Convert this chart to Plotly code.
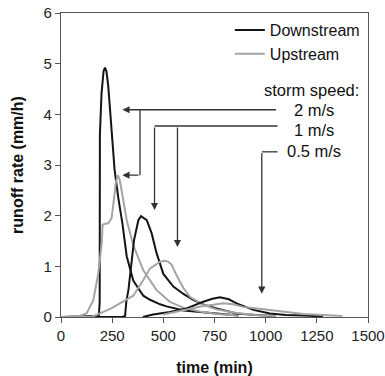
import plotly.graph_objects as go

# ---- data ----
t_down_2 = [0, 185, 189, 190, 198, 208, 215, 222, 231, 247, 262, 280, 300, 321, 353, 402, 435, 484, 516, 600, 679, 760, 840, 867]
q_down_2 = [0, 0.02, 0.3, 3.59, 4.41, 4.85, 4.92, 4.85, 4.55, 3.62, 2.9, 2.35, 1.85, 1.2, 0.72, 0.42, 0.34, 0.25, 0.21, 0.13, 0.10, 0.06, 0.04, 0.03]

t_up_2 = [0, 90, 125, 158, 182, 199, 203, 215, 231, 247, 255, 268, 277, 286, 296, 321, 353, 402, 467, 532, 600, 679, 760, 867]
q_up_2 = [0, 0.02, 0.07, 0.33, 0.86, 1.45, 1.82, 1.84, 1.85, 1.95, 2.2, 2.65, 2.80, 2.72, 2.5, 1.91, 1.42, 0.92, 0.53, 0.30, 0.18, 0.11, 0.06, 0.03]

t_down_1 = [0, 300, 313, 319, 330, 337, 357, 378, 391, 419, 443, 467, 500, 549, 600, 646, 700, 760, 858, 950, 1050]
q_down_1 = [0, 0, 0.02, 0.3, 0.55, 0.80, 1.52, 1.91, 1.99, 1.91, 1.65, 1.26, 0.85, 0.6, 0.45, 0.34, 0.24, 0.17, 0.07, 0.04, 0.02]

t_up_1 = [0, 150, 207, 250, 288, 353, 402, 435, 451, 484, 508, 524, 541, 565, 600, 630, 695, 760, 858, 950, 1050]
q_up_1 = [0, 0, 0.1, 0.18, 0.27, 0.42, 0.73, 0.96, 1.0, 1.09, 1.11, 1.09, 1.03, 0.82, 0.56, 0.40, 0.24, 0.15, 0.08, 0.04, 0.02]

t_down_05 = [400, 450, 532, 614, 695, 740, 777, 820, 858, 940, 1021, 1100, 1184, 1280]
q_down_05 = [0, 0.05, 0.1, 0.17, 0.30, 0.36, 0.39, 0.35, 0.27, 0.14, 0.07, 0.04, 0.03, 0.01]

t_up_05 = [500, 560, 630, 700, 744, 793, 840, 890, 960, 1021, 1100, 1184, 1280, 1375]
q_up_05 = [0.05, 0.1, 0.17, 0.22, 0.24, 0.27, 0.25, 0.2, 0.17, 0.14, 0.1, 0.06, 0.04, 0.02]

x_ticks = [0, 250, 500, 750, 1000, 1250, 1500]
y_ticks = [0, 1, 2, 3, 4, 5, 6]
speed_labels = ["2 m/s", "1 m/s", "0.5 m/s"]

BLACK = "#141414"
GRAY = "#a4a4a4"
FONT = "Liberation Sans, Arial, sans-serif"

fig = go.Figure()
series = [
    (t_down_2, q_down_2, BLACK, "Downstream", True),
    (t_up_2, q_up_2, GRAY, "Upstream", True),
    (t_down_1, q_down_1, BLACK, "Downstream", False),
    (t_up_1, q_up_1, GRAY, "Upstream", False),
    (t_down_05, q_down_05, BLACK, "Downstream", False),
    (t_up_05, q_up_05, GRAY, "Upstream", False),
]
for tx, qy, col, name, show in series:
    fig.add_trace(go.Scatter(x=tx, y=qy, mode="lines", name=name, legendgroup=name,
                             showlegend=show, line=dict(color=col, width=2)))

line_col = "#333333"
arr_w = 1.3

def seg(x0, y0, x1, y1):
    fig.add_shape(type="line", x0=x0, y0=y0, x1=x1, y1=y1, xref="x", yref="y",
                  line=dict(color=line_col, width=arr_w))

def arrow(x, y, ax, ay):
    fig.add_annotation(x=x, y=y, ax=ax, ay=ay, xref="x", yref="y", axref="x", ayref="y",
                       text="", showarrow=True, arrowhead=2, arrowsize=1.1,
                       arrowwidth=arr_w, arrowcolor=line_col)

# 2 m/s
arrow(300, 4.09, 1058, 4.09)
seg(386, 4.09, 386, 2.80)
arrow(300, 2.80, 386, 2.80)
# 1 m/s
seg(1058, 3.77, 457, 3.77)
arrow(457, 2.11, 457, 3.77)
arrow(569, 1.38, 569, 3.77)
# 0.5 m/s
seg(1058, 3.26, 981, 3.26)
arrow(981, 0.46, 981, 3.26)

fig.add_annotation(x=1467, y=4.48, text="storm speed:", showarrow=False, xanchor="right",
                   yanchor="middle", font=dict(size=16.5, color="#111", family=FONT))
for lab, yy, xx in zip(speed_labels, [4.09, 3.70, 3.28], [1237, 1237, 1234]):
    fig.add_annotation(x=xx, y=yy, text=lab, showarrow=False, xanchor="center",
                       yanchor="middle", font=dict(size=16.5, color="#111", family=FONT))

axis_common = dict(showgrid=False, zeroline=False, showline=True, linecolor="#555",
                   linewidth=1.2, mirror=True, ticks="outside", ticklen=5, tickcolor="#555",
                   automargin=False,
                   tickfont=dict(size=15, color="#222", family=FONT))

fig.update_layout(
    width=385, height=376,
    margin=dict(l=61, r=17, t=13, b=59, autoexpand=False),
    paper_bgcolor="white", plot_bgcolor="white",
    font=dict(family=FONT, color="#111"),
    showlegend=True,
    legend=dict(x=0.55, y=1.0, xanchor="left", yanchor="top", bgcolor="rgba(0,0,0,0)",
                font=dict(size=16, color="#111", family=FONT), itemwidth=30,
                tracegroupgap=0),
    xaxis=dict(range=[0, 1500], tickvals=x_ticks, ticktext=[str(v) for v in x_ticks],
               title=dict(text="<b>time (min)</b>", font=dict(size=16, color="#111", family=FONT),
                          standoff=22),
               **axis_common),
    yaxis=dict(range=[0, 6], tickvals=y_ticks, ticktext=[str(v) for v in y_ticks],
               title=dict(text="<b>runoff rate (mm/h)</b>", font=dict(size=16, color="#111", family=FONT)),
               **axis_common),
)

fig.write_html("out.html")
